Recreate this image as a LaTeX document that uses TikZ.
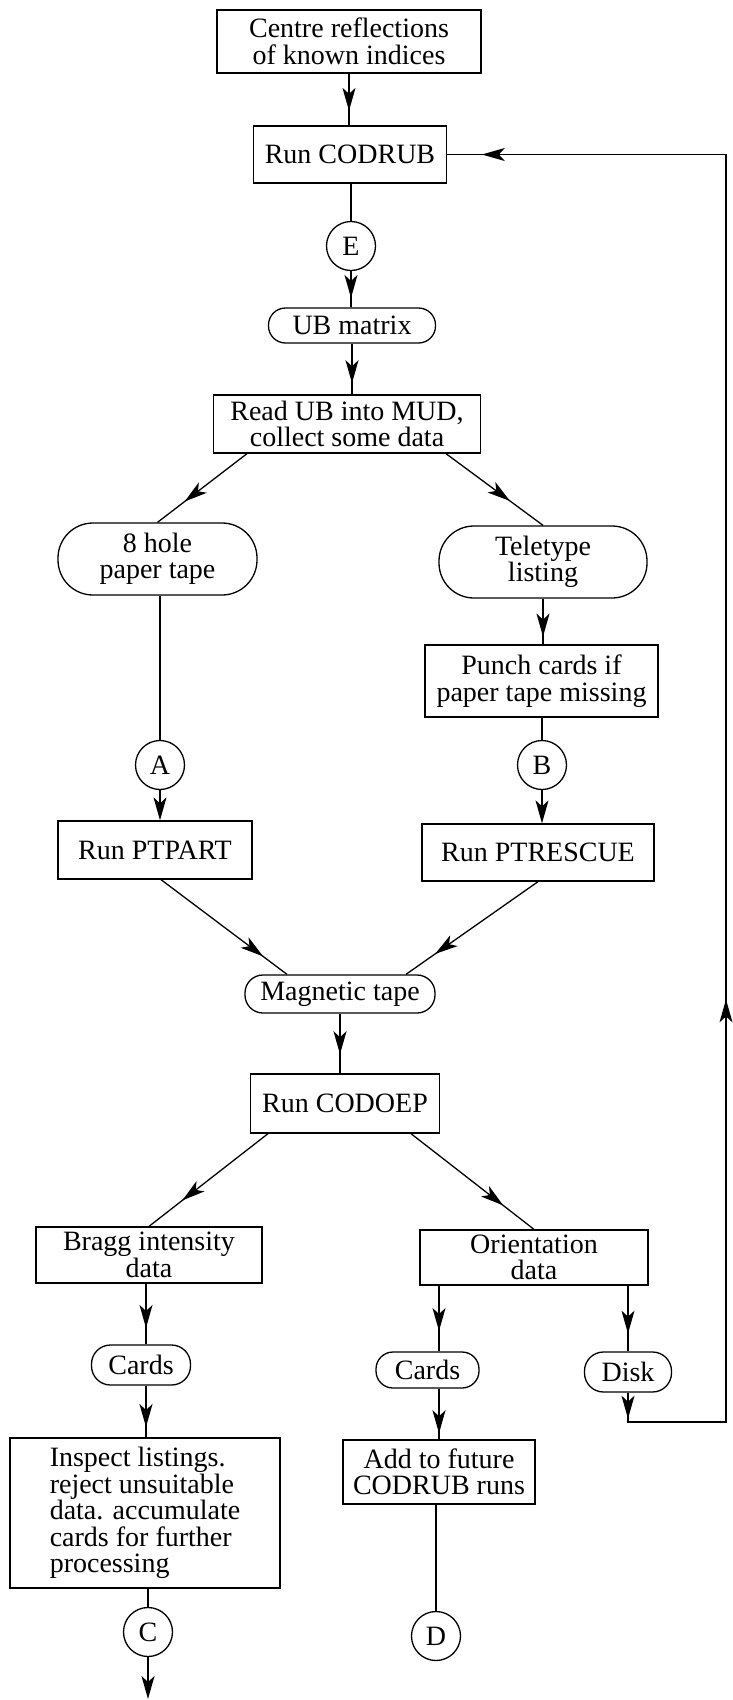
\documentclass[tikz,border=0pt]{standalone}
\usepackage{fontspec}
\setmainfont{Liberation Serif}
\usetikzlibrary{arrows.meta,decorations.markings}
\begin{document}
\begin{tikzpicture}[x=1pt,y=-1pt,
  line width=1.3pt,
  every node/.style={font=\fontsize{28}{26.5}\selectfont, inner sep=0pt, align=center},
  box/.style={draw, rectangle},
  term/.style={draw, rectangle},
  circ/.style={draw, circle, minimum size=49},
  marr/.style={decoration={markings, mark=at position #1 with {\arrow{Stealth[length=23pt,width=13pt,inset=6pt]}}}, postaction={decorate}},
  endarr/.style={-{Stealth[length=23pt,width=13pt,inset=6pt]}}]
\fill[white] (0,0) rectangle (732,1700);
\useasboundingbox (0,0) rectangle (732,1700);

\node[box, minimum width=264, minimum height=63] (top) at (349,41.5) {Centre reflections\\of known indices};
\node[box, minimum width=193, minimum height=57] (codrub) at (350,154.5) {Run CODRUB};
\node[circ] (E) at (351,246) {E};
\node[term, minimum width=167, minimum height=35, rounded corners=17] (ub) at (352,325.5) {UB matrix};
\node[box, minimum width=267, minimum height=58] (read) at (347,424) {Read UB into MUD,\\collect some data};
\node[term, minimum width=199, minimum height=72, rounded corners=35] (hole) at (157.5,559) {8 hole\\paper tape};
\node[term, minimum width=208, minimum height=72, rounded corners=35] (tele) at (543,562) {Teletype\\listing};
\node[box, minimum width=233, minimum height=72] (punch) at (541.5,681) {Punch cards if\\paper tape missing};
\node[circ] (A) at (160,765) {A};
\node[circ] (B) at (542,765) {B};
\node[box, minimum width=194, minimum height=58] (ptpart) at (155,850) {Run PTPART};
\node[box, minimum width=232, minimum height=57] (ptres) at (538,852.5) {Run PTRESCUE};
\node[term, minimum width=190, minimum height=38, rounded corners=18] (mag) at (340,994) {Magnetic tape};
\node[box, minimum width=189, minimum height=59] (codoep) at (345,1103.5) {Run CODOEP};
\node[box, minimum width=226, minimum height=56] (bragg) at (149,1255) {Bragg intensity\\data};
\node[box, minimum width=228, minimum height=55] (orient) at (534,1257.5) {Orientation\\data};
\node[term, minimum width=99, minimum height=40, rounded corners=19] (cardsA) at (141,1365) {Cards};
\node[box, minimum width=270, minimum height=150, align=left] (insp) at (145,1513) {Inspect listings.\\reject unsuitable\\data. accumulate\\cards for further\\processing};
\node[circ] (C) at (148,1632) {C};
\node[term, minimum width=103, minimum height=36, rounded corners=17] (cardsB) at (427.5,1370) {Cards};
\node[box, minimum width=192, minimum height=64] (add) at (439,1472) {Add to future\\CODRUB runs};
\node[circ] (D) at (436,1636) {D};
\node[term, minimum width=87, minimum height=40, rounded corners=19] (disk) at (628,1372) {Disk};

\draw[marr=0.72] (top.south) -- (top.south |- codrub.north);
\draw (E.north |- codrub.south) -- (E.north);
\draw[marr=0.74] (E.south) -- (E.south |- ub.north);
\draw[marr=0.78] (ub.south) -- (ub.south |- read.north);
\draw[marr=0.7] ([xshift=-100]read.south) -- (hole.north);
\draw[marr=0.66] ([xshift=99]read.south) -- (tele.north);
\draw[marr=0.83] (tele.south) -- (tele.south |- punch.north);
\draw (B.north |- punch.south) -- (B.north);
\draw (A.north |- hole.south) -- (A.north);
\draw[endarr] (A.south) -- (A.south |- ptpart.north);
\draw[endarr] (B.south) -- (B.south |- ptres.north);
\draw[marr=0.81] ([xshift=6]ptpart.south) -- ([xshift=-53]mag.north);
\draw[marr=0.78] (ptres.south) -- ([xshift=66]mag.north);
\draw[marr=0.68] (mag.south) -- (mag.south |- codoep.north);
\draw[marr=0.72] ([xshift=-77]codoep.south) -- (bragg.north);
\draw[marr=0.75] ([xshift=66]codoep.south) -- (orient.north);
\draw[marr=0.73] ([xshift=-3]bragg.south) -- ([xshift=-3]bragg.south |- cardsA.north);
\draw[marr=0.8] ([xshift=5]cardsA.south) -- ([xshift=5]cardsA.south |- insp.north);
\draw (C.north |- insp.south) -- (C.north);
\coordinate (Cout) at (148,1699);
\draw[endarr] (C.south) -- (Cout);
\draw[marr=0.69] (add.north |- orient.south) -- (add.north |- cardsB.north);
\draw[marr=0.88] (add.north |- cardsB.south) -- (add.north);
\draw (D.north |- add.south) -- (D.north);
\draw[marr=0.73] (disk.north |- orient.south) -- (disk.north);
\coordinate (fbc) at (726,1422);
\draw[decoration={markings,
    mark=at position 26pt with {\arrow{Stealth[length=23pt,width=13pt,inset=6pt]}},
    mark=at position 550pt with {\arrow{Stealth[length=23pt,width=13pt,inset=6pt]}},
    mark=at position 1639pt with {\arrow{Stealth[length=23pt,width=13pt,inset=6pt]}}},
    postaction={decorate}]
  (disk.south) |- (fbc) -- (fbc |- codrub.east) -- (codrub.east);
\end{tikzpicture}
\end{document}
